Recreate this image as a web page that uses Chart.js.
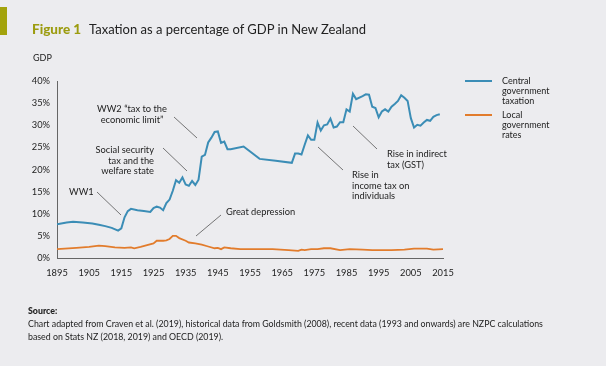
<!DOCTYPE html>
<html>
<head>
<meta charset="utf-8">
<script src="https://cdn.jsdelivr.net/npm/chart.js@4"></script>
<style>
  html, body { margin: 0; padding: 0; }
  body {
    width: 606px; height: 366px; overflow: hidden;
    background: #ececef; position: relative;
    font-family: 'Lato', sans-serif; color: #222;
  }
  #chartWrap { position: absolute; left: 0; top: 0; width: 606px; height: 366px; }
  .bar { position: absolute; left: 0; top: 7px; width: 7px; height: 28px; background: #a3a30c; }
  .title { position: absolute; left: 32px; top: 21px; font-size: 13px; white-space: nowrap; }
  .title b { color: #9c9c10; font-weight: 900; font-size: 13.5px; margin-right: 5px; }
  .gdp { position: absolute; left: 33px; top: 52px; font-size: 9px; }
  .legend { position: absolute; left: 465px; font-size: 9px; line-height: 10px; }
  .legend i { position: absolute; left: 0; top: 4px; width: 27px; height: 2px; }
  .legend span { position: absolute; left: 37px; top: 0; white-space: nowrap; }
  .source { position: absolute; left: 28px; top: 304px; font-size: 8.8px; line-height: 13px; }
  .source b { font-weight: 900; }
</style>
</head>
<body>
<div id="chartWrap"><canvas id="taxChart" width="606" height="366"></canvas></div>
<div class="bar"></div>
<div class="title"><b>Figure 1</b> Taxation as a percentage of GDP in New Zealand</div>
<div class="gdp">GDP</div>
<div class="legend" style="top:76px"><i style="background:#3b8db6"></i><span>Central<br>government<br>taxation</span></div>
<div class="legend" style="top:110px"><i style="background:#e27c2c"></i><span>Local<br>government<br>rates</span></div>
<div class="source"><b>Source:</b><br>Chart adapted from Craven et al. (2019), historical data from Goldsmith (2008), recent data (1993 and onwards) are NZPC calculations<br>based on Stats NZ (2018, 2019) and OECD (2019).</div>

<script>
// Central government taxation (% of GDP)
const centralYears = [1895, 1898, 1900, 1903, 1906, 1908, 1910, 1912, 1914, 1915, 1916, 1917, 1918, 1920, 1922, 1924,
  1925, 1926, 1927, 1928, 1929, 1930, 1931, 1932, 1933, 1934, 1935, 1936, 1937, 1938, 1939, 1940, 1941, 1942, 1943,
  1944, 1945, 1946, 1947, 1948, 1949, 1953, 1958, 1963, 1968, 1969, 1970, 1971, 1972, 1973, 1974, 1975, 1976, 1977,
  1978, 1979, 1980, 1981, 1982, 1983, 1984, 1985, 1986, 1987, 1988, 1990, 1991, 1992, 1993, 1994, 1995, 1996, 1997,
  1998, 1999, 2000, 2001, 2002, 2003, 2004, 2005, 2006, 2007, 2008, 2009, 2010, 2011, 2012, 2013, 2014];
const centralValues = [7.6, 8.0, 8.2, 8.0, 7.8, 7.5, 7.2, 6.8, 6.2, 6.7, 9.2, 10.6, 11.1, 10.8, 10.6, 10.4,
  11.3, 11.6, 11.4, 10.8, 12.4, 13.2, 15.2, 17.6, 17.0, 18.2, 16.6, 16.3, 17.4, 16.5, 17.7, 22.9, 23.3, 26.1, 27.2,
  28.5, 28.6, 26.0, 26.3, 24.6, 24.6, 25.2, 22.4, 22.0, 21.5, 23.6, 23.6, 23.4, 25.6, 27.7, 26.7, 26.7, 30.6, 28.8,
  30.0, 30.2, 31.5, 29.5, 29.7, 30.7, 30.7, 33.6, 33.1, 37.1, 35.9, 36.6, 37.0, 36.9, 34.2, 33.9, 31.8, 33.1, 33.6,
  33.1, 34.2, 34.8, 35.5, 36.8, 36.2, 35.5, 31.6, 29.5, 30.1, 29.9, 30.6, 31.2, 31.0, 31.9, 32.3, 32.5];

// Local government rates (% of GDP)
const localYears = [1895, 1901, 1905, 1908, 1910, 1913, 1916, 1918, 1919, 1921, 1923, 1925, 1926, 1928, 1929, 1930,
  1931, 1932, 1933, 1935, 1936, 1938, 1940, 1942, 1944, 1945, 1946, 1947, 1949, 1952, 1955, 1962, 1967, 1970, 1971,
  1972, 1974, 1976, 1978, 1980, 1983, 1986, 1990, 1993, 1999, 2003, 2006, 2010, 2012, 2015];
const localValues = [2.0, 2.3, 2.5, 2.8, 2.7, 2.4, 2.3, 2.4, 2.2, 2.5, 2.9, 3.3, 3.9, 3.9, 4.0, 4.3,
  5.0, 5.0, 4.5, 3.9, 3.5, 3.3, 3.0, 2.6, 2.2, 2.3, 2.0, 2.4, 2.2, 2.0, 2.0, 2.0, 1.8, 1.6, 1.9,
  1.8, 2.0, 2.0, 2.2, 2.2, 1.8, 2.0, 1.9, 1.8, 1.8, 1.9, 2.1, 2.1, 1.9, 2.0];

const yTicks = [0, 5, 10, 15, 20, 25, 30, 35, 40];
const xTicks = [1895, 1905, 1915, 1925, 1935, 1945, 1955, 1965, 1975, 1985, 1995, 2005, 2015];

// Annotation texts with leader lines (canvas pixels)
const notes = [
  { lines: ['WW2 \u201ctax to the', 'economic limit\u201d'], x: 132, y: 109, align: 'center', from: [174, 117], to: [197, 138] },
  { lines: ['Social security', 'tax and the', 'welfare state'], x: 154, y: 150, align: 'right', from: [163, 148], to: [187, 171] },
  { lines: ['WW1'], x: 69, y: 192, align: 'left', from: [97, 192], to: [121, 215] },
  { lines: ['Great depression'], x: 226, y: 212, align: 'left', from: [221, 215], to: [196, 236] },
  { lines: ['Rise in indirect', 'tax (GST)'], x: 387, y: 154, align: 'left', from: [353, 126], to: [377, 149] },
  { lines: ['Rise in', 'income tax on', 'individuals'], x: 352, y: 175, align: 'left', from: [318, 147], to: [343, 170] }
];

const toPoints = (xs, ys) => xs.map((x, i) => ({ x: x, y: ys[i] }));

const notesPlugin = {
  id: 'notes',
  afterDraw(chart) {
    const ctx = chart.ctx;
    ctx.save();
    ctx.strokeStyle = '#555';
    ctx.lineWidth = 0.8;
    ctx.fillStyle = '#222';
    ctx.font = "9.3px 'Lato', sans-serif";
    ctx.textBaseline = 'middle';
    notes.forEach(n => {
      ctx.beginPath();
      ctx.moveTo(n.from[0], n.from[1]);
      ctx.lineTo(n.to[0], n.to[1]);
      ctx.stroke();
      ctx.textAlign = n.align;
      n.lines.forEach((t, i) => ctx.fillText(t, n.x, n.y + i * 10.5));
    });
    ctx.restore();
  }
};

new Chart(document.getElementById('taxChart'), {
  type: 'line',
  data: {
    datasets: [
      {
        label: 'Central government taxation',
        data: toPoints(centralYears, centralValues),
        borderColor: '#3b8db6',
        borderWidth: 2,
        pointRadius: 0,
        tension: 0
      },
      {
        label: 'Local government rates',
        data: toPoints(localYears, localValues),
        borderColor: '#e27c2c',
        borderWidth: 1.8,
        pointRadius: 0,
        tension: 0
      }
    ]
  },
  options: {
    responsive: false,
    animation: false,
    layout: { padding: { left: 0, right: 163, top: 81, bottom: 0 } },
    plugins: { legend: { display: false }, tooltip: { enabled: false } },
    scales: {
      x: {
        type: 'linear',
        min: 1895,
        max: 2015,
        afterBuildTicks: (scale) => { scale.ticks = xTicks.map(v => ({ value: v })); },
        afterFit: (scale) => { scale.height = 108; },
        grid: { display: false, drawTicks: false },
        border: { display: true, color: '#666', width: 1 },
        ticks: { color: '#222', font: { family: 'Lato', size: 9.3 }, padding: 9, maxRotation: 0, autoSkip: false,
          callback: (v) => String(v) }
      },
      y: {
        min: 0,
        max: 40,
        afterBuildTicks: (scale) => { scale.ticks = yTicks.map(v => ({ value: v })); },
        afterFit: (scale) => { scale.width = 57; },
        grid: { display: false, drawTicks: false },
        border: { display: true, color: '#666', width: 1 },
        ticks: { color: '#222', font: { family: 'Lato', size: 9.3 }, padding: 7, callback: (v) => v + '%' }
      }
    }
  },
  plugins: [notesPlugin]
});
</script>
</body>
</html>
